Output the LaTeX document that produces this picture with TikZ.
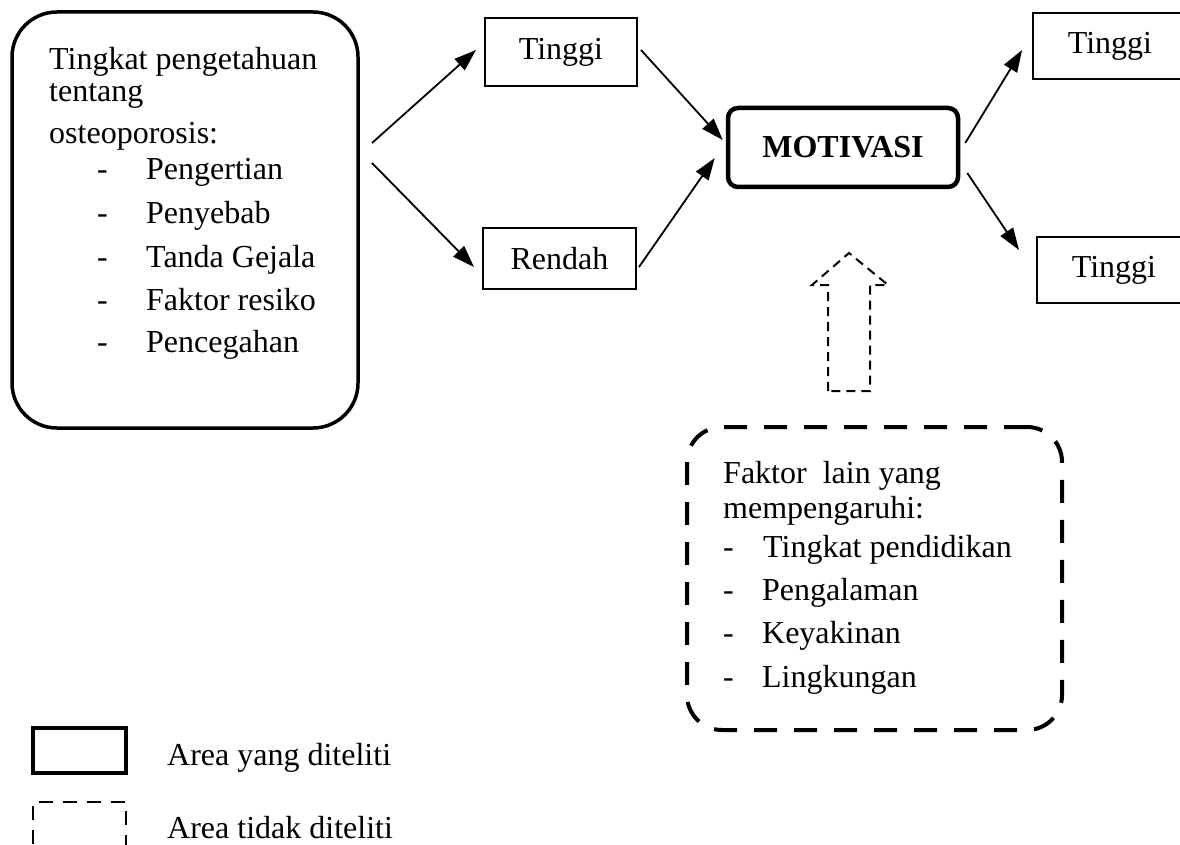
\documentclass[tikz,border=0pt]{standalone}
\usepackage{fontspec}
\setmainfont{Liberation Serif}
\usetikzlibrary{arrows.meta}
\begin{document}
\begin{tikzpicture}[x=1pt,y=-1pt,
  font=\fontsize{32}{38}\selectfont,
  box/.style={draw, line width=2pt, minimum width=152pt, minimum height=66pt, inner sep=0pt},
  keybox/.style={draw, line width=3.5pt, rounded corners=45pt, inner sep=0pt},
  txt/.style={anchor=base west, inner sep=0pt},
  arr/.style={line width=1.8pt, -{Triangle[length=22pt,width=15pt]}},
  dashbox/.style={draw, line width=4pt, dash pattern=on 23pt off 17pt, rounded corners=35pt, inner sep=0pt},
  smalldash/.style={line width=2pt, dash pattern=on 9pt off 6pt},
]
\useasboundingbox (0,0) rectangle (1180,845);
\fill[white] (0,0) rectangle (1180,845);
\clip (0,0) rectangle (1180,845);

% left knowledge box
\node[keybox, minimum width=346pt, minimum height=416pt] (know) at (185,220) {};
\node[txt] (k1t) at (49,70) {Tingkat pengetahuan};
\node[txt] (k2t) at (49,102) {tentang};
\node[txt] (k3t) at (49,144) {osteoporosis:};
\node[txt] (k4t) at (97,180) {\makebox[49pt][l]{-}Pengertian};
\node[txt] (k5t) at (97,223) {\makebox[49pt][l]{-}Penyebab};
\node[txt] (k6t) at (97,267) {\makebox[49pt][l]{-}Tanda Gejala};
\node[txt] (k7t) at (97,310) {\makebox[49pt][l]{-}Faktor resiko};
\node[txt] (k8t) at (97,352) {\makebox[49pt][l]{-}Pencegahan};

% middle boxes
\node[box, minimum height=68pt] (t1) at (561,52) {Tinggi};
\node[box, minimum height=61pt, minimum width=153pt] (r1) at (559.5,258.5) {Rendah};

% motivasi
\node[draw, line width=4.5pt, rounded corners=10pt, minimum width=230pt, minimum height=79pt, inner sep=0pt, font=\fontsize{32}{38}\selectfont\bfseries] (mot) at (843,147.5) {MOTIVASI};

% right boxes
\node[box, minimum width=154pt] (t2) at (1110,46) {Tinggi};
\node[box, minimum width=154pt] (t3) at (1114,270) {Tinggi};

% connectors
\coordinate (ka) at (372,143);
\coordinate (kb) at (372,163);
\draw[arr] (ka) -- ([xshift=-8pt,yshift=2pt]t1.west);
\draw[arr] (kb) -- ([xshift=-8pt,yshift=-8.5pt]r1.west);
\draw[arr] ([xshift=3pt,yshift=2pt]t1.east) -- ([xshift=-3pt,yshift=7.5pt]mot.west);
\draw[arr] ([xshift=2pt,yshift=-8.5pt]r1.east) -- ([xshift=-11pt,yshift=-10.5pt]mot.west);
\draw[arr] ([xshift=5pt,yshift=4.5pt]mot.east) -- ([xshift=-10pt,yshift=-4pt]t2.west);
\draw[arr] ([xshift=7pt,yshift=-25.5pt]mot.east) -- ([xshift=-17pt,yshift=20pt]t3.west);

% dashed up arrow
\draw[smalldash] (828,391) -- (828,285) -- (812,285) -- (849,253) -- (888,285) -- (870,285) -- (870,391) -- cycle;

% other factors box
\node[dashbox, minimum width=375pt, minimum height=303pt] (fak) at (874.5,578.5) {};
\node[txt] (f1t) at (723,483) {Faktor\ \ lain yang};
\node[txt] (f2t) at (723,518) {mempengaruhi:};
\node[txt] (f3t) at (723,557) {\makebox[40pt][l]{-}Tingkat pendidikan};
\node[txt] (f4t) at (723,600) {\makebox[39pt][l]{-}Pengalaman};
\node[txt] (f5t) at (723,643) {\makebox[39pt][l]{-}Keyakinan};
\node[txt] (f6t) at (723,687) {\makebox[39pt][l]{-}Lingkungan};

% legend
\node[draw, line width=4pt, minimum width=93pt, minimum height=45pt, inner sep=0pt] (leg1) at (79.5,750.5) {};
\node[draw, line width=2.5pt, dash pattern=on 14pt off 10pt, minimum width=93pt, minimum height=50pt, inner sep=0pt] (leg2) at (79.5,827) {};
\node[txt] (leg1t) at (167,765) {Area yang diteliti};
\node[txt] (leg2t) at (167,838) {Area tidak diteliti};
\end{tikzpicture}
\end{document}
